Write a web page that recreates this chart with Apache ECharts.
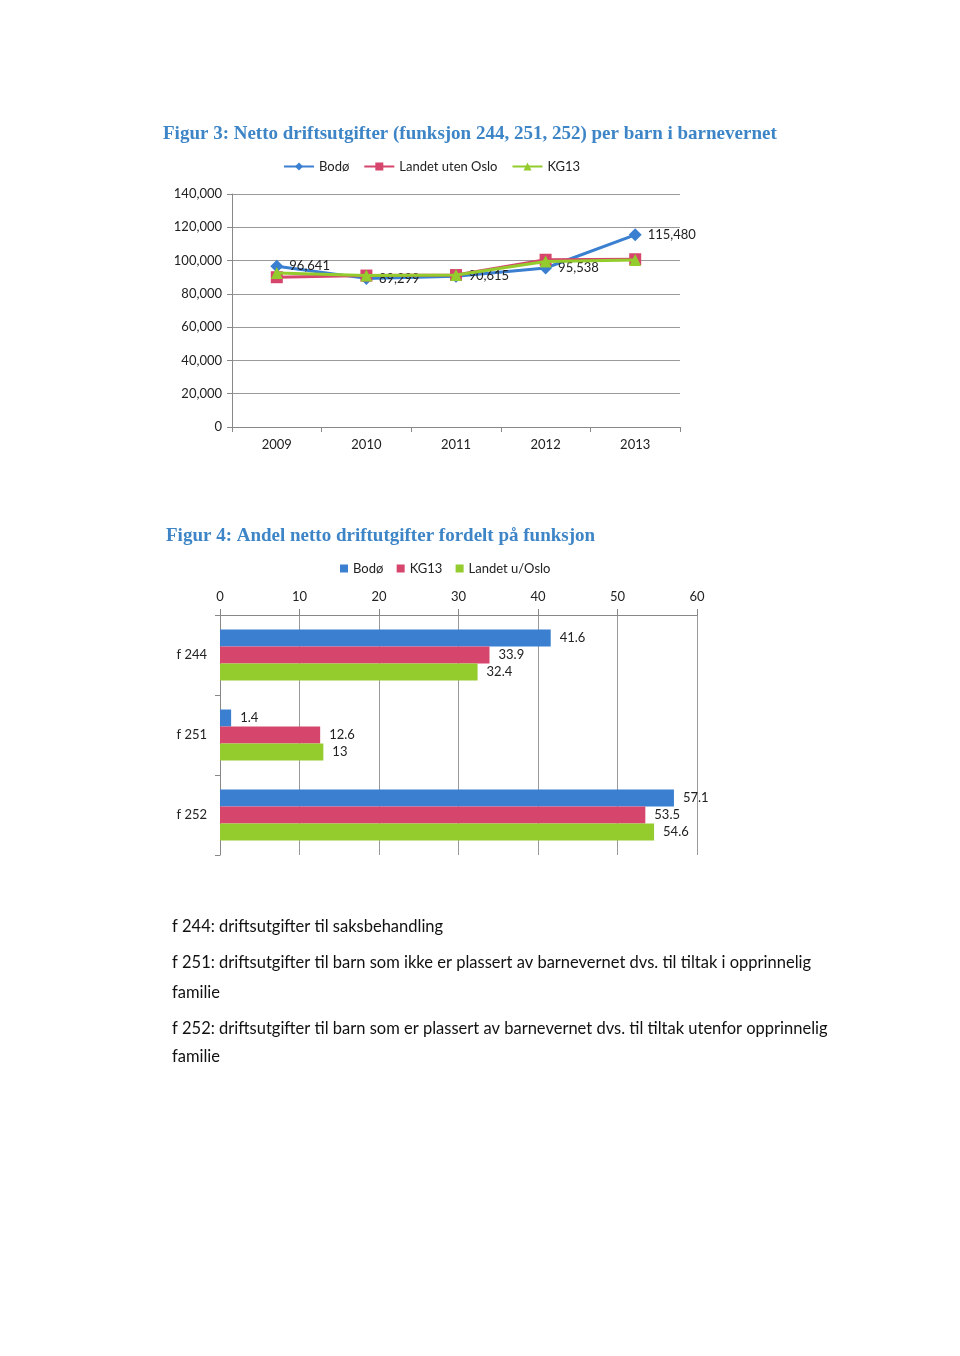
<!DOCTYPE html>
<html><head><meta charset="utf-8">
<script src="https://cdn.jsdelivr.net/npm/echarts@6/dist/echarts.min.js"></script>
<style>html,body{margin:0;padding:0;background:#fff}#c{width:960px;height:1356px}</style>
</head><body><div id="c"></div>
<script>
// Figure 3 data
const years = ['2009','2010','2011','2012','2013'];
const bodo = [96641, 89299, 90615, 95538, 115480];
const landetUtenOslo = [90000, 91000, 91300, 100500, 100800];
const kg13Line = [92500, 91000, 91300, 99500, 100300];
const yTicks3 = [0, 20000, 40000, 60000, 80000, 100000, 120000, 140000];

// Figure 4 data
const funksjoner = ['f 244', 'f 251', 'f 252'];
const barBodo = [41.6, 1.4, 57.1];
const barKG13 = [33.9, 12.6, 53.5];
const barLandet = [32.4, 13, 54.6];

const notes = [
  'f 244: driftsutgifter til saksbehandling',
  'f 251: driftsutgifter til barn som ikke er plassert av barnevernet dvs. til tiltak i opprinnelig',
  'familie',
  'f 252: driftsutgifter til barn som er plassert av barnevernet dvs. til tiltak utenfor opprinnelig',
  'familie'
];

const FONT = 'Lato, "Open Sans", sans-serif';
const BLUE = '#3a7fd0', RED = '#d6456c', GREEN = '#93cc2c';
const fmt = v => Number(v).toLocaleString('en-US');

const chart = echarts.init(document.getElementById('c'));
const labelStyle = {color:'#222', fontFamily:FONT, fontSize:13};

chart.setOption({
  backgroundColor:'#fff',
  animation:false,
  textStyle:{fontFamily:FONT},
  title:[
    {text:'Figur 3: Netto driftsutgifter (funksjon 244, 251, 252) per barn i barnevernet', left:158, top:120,
     textStyle:{fontFamily:'"Liberation Serif", serif', fontWeight:'bold', fontSize:19, color:'#3d85c6'}},
    {text:'Figur 4: Andel netto driftutgifter fordelt på funksjon', left:161, top:522,
     textStyle:{fontFamily:'"Liberation Serif", serif', fontWeight:'bold', fontSize:19, color:'#3d85c6'}}
  ],
  legend:[
    {data:['Bodø','Landet uten Oslo','KG13'], left:278, top:155, itemWidth:30, itemHeight:10, itemGap:14,
     textStyle:{fontFamily:FONT, fontSize:13, color:'#222'}},
    {data:['Bodø ','KG13 ','Landet u/Oslo'], left:335, top:557, icon:'rect', itemWidth:8, itemHeight:8, itemGap:10,
     textStyle:{fontFamily:FONT, fontSize:13, color:'#222'}}
  ],
  grid:[
    {left:232, top:194, width:448, height:233},
    {left:220, top:615, width:477, height:240}
  ],
  xAxis:[
    {gridIndex:0, type:'category', data:years, boundaryGap:true,
     axisLine:{lineStyle:{color:'#888'}}, axisTick:{show:true, lineStyle:{color:'#888'}},
     axisLabel:{color:'#222', fontSize:13, margin:11, fontFamily:FONT}},
    {gridIndex:1, type:'value', position:'top', min:0, max:60, interval:10,
     axisLine:{show:true, lineStyle:{color:'#888'}}, axisTick:{show:true, length:6, lineStyle:{color:'#888'}},
     splitLine:{lineStyle:{color:'#999'}},
     axisLabel:{color:'#222', fontSize:13, margin:12, fontFamily:FONT}}
  ],
  yAxis:[
    {gridIndex:0, type:'value', min:0, max:140000, interval:20000,
     axisLine:{show:true, lineStyle:{color:'#888'}}, axisTick:{show:true, lineStyle:{color:'#888'}},
     splitLine:{lineStyle:{color:'#999'}},
     axisLabel:{color:'#222', fontSize:13, margin:10, fontFamily:FONT, formatter:v=>yTicks3.includes(v)?fmt(v):''}},
    {gridIndex:1, type:'category', data:funksjoner, inverse:true,
     axisLine:{show:true, lineStyle:{color:'#888'}}, axisTick:{show:true, lineStyle:{color:'#888'}},
     axisLabel:{color:'#222', fontSize:13, margin:13, fontFamily:FONT}}
  ],
  series:[
    {name:'Bodø', type:'line', xAxisIndex:0, yAxisIndex:0, data:bodo, z:3,
     symbol:'diamond', symbolSize:13, lineStyle:{color:BLUE, width:3}, itemStyle:{color:BLUE},
     label:{show:true, position:'right', distance:6, formatter:p=>fmt(p.value), ...labelStyle}},
    {name:'Landet uten Oslo', type:'line', xAxisIndex:0, yAxisIndex:0, data:landetUtenOslo, z:4,
     symbol:'rect', symbolSize:12, lineStyle:{color:RED, width:3}, itemStyle:{color:RED}},
    {name:'KG13', type:'line', xAxisIndex:0, yAxisIndex:0, data:kg13Line, z:5,
     symbol:'triangle', symbolSize:12, lineStyle:{color:GREEN, width:3}, itemStyle:{color:GREEN}},
    {name:'Bodø ', type:'bar', xAxisIndex:1, yAxisIndex:1, data:barBodo, barWidth:17, barGap:'0%',
     itemStyle:{color:BLUE}, label:{show:true, position:'right', distance:9, ...labelStyle}},
    {name:'KG13 ', type:'bar', xAxisIndex:1, yAxisIndex:1, data:barKG13, barWidth:17, barGap:'0%',
     itemStyle:{color:RED}, label:{show:true, position:'right', distance:9, ...labelStyle}},
    {name:'Landet u/Oslo', type:'bar', xAxisIndex:1, yAxisIndex:1, data:barLandet, barWidth:17, barGap:'0%',
     itemStyle:{color:GREEN}, label:{show:true, position:'right', distance:9, ...labelStyle}}
  ],
  graphic: notes.map((t,i)=>({
    type:'text', left:172, top:[918,954,984,1020,1048][i],
    style:{text:t, fill:'#111', font:'16.5px ' + FONT}
  }))
});
</script></body></html>
